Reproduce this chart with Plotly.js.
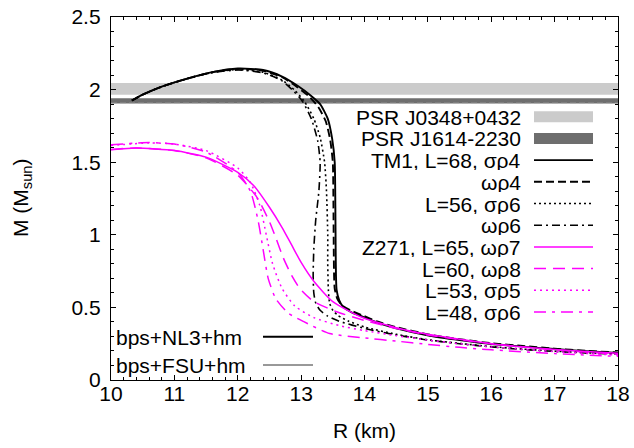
<!DOCTYPE html>
<html>
<head>
<meta charset="utf-8">
<script src="https://cdn.plot.ly/plotly-3.0.1.min.js"></script>
<style>html,body{margin:0;padding:0;background:#fff;}#chart{width:634px;height:448px;}</style>
</head>
<body>
<div id="chart"></div>
<script>
// ---- Data (R in km, M in solar masses) ----
// Observational bands
const psr0348Band = [1.965, 2.045];
const psr1614Band = [1.905, 1.94];

// TM1 family (black)
const tm1_L68_sr4_R = [10.33,10.5,10.8,11.2,11.6,12.0,12.4,12.7,12.95,13.15,13.3,13.42,13.49,13.53,13.54,13.545,13.55,13.56,13.6,13.66,13.8,13.97,14.2,14.5,15.03,15.5,16.0,16.5,17.0,17.5,18.0];
const tm1_L68_sr4_M = [1.925,1.965,2.02,2.075,2.12,2.145,2.135,2.09,2.025,1.96,1.9,1.8,1.66,1.5,1.2,0.9,0.72,0.62,0.55,0.505,0.465,0.436,0.395,0.356,0.305,0.275,0.248,0.23,0.213,0.199,0.187];

const tm1_wr4_R = [10.33,10.5,10.8,11.2,11.6,12.0,12.4,12.7,12.93,13.12,13.27,13.39,13.46,13.5,13.51,13.515,13.52,13.53,13.57,13.64,13.8,13.97,14.2,14.5,15.03,15.5,16.0,16.5,17.0,17.5,18.0];
const tm1_wr4_M = [1.925,1.965,2.02,2.075,2.12,2.143,2.13,2.085,2.02,1.955,1.88,1.78,1.65,1.5,1.2,0.9,0.72,0.63,0.56,0.515,0.475,0.445,0.403,0.364,0.312,0.281,0.253,0.234,0.216,0.201,0.189];

const tm1_L56_sr6_R = [10.33,10.5,10.8,11.2,11.6,12.0,12.4,12.7,12.9,13.05,13.2,13.3,13.37,13.4,13.42,13.42,13.43,13.45,13.5,13.58,13.75,14.0,14.5,15.0,15.5,16.0,16.5,17.0,17.5,18.0];
const tm1_L56_sr6_M = [1.925,1.965,2.02,2.075,2.118,2.138,2.12,2.065,1.995,1.92,1.8,1.67,1.5,1.3,1.0,0.8,0.62,0.53,0.48,0.445,0.405,0.365,0.315,0.277,0.252,0.23,0.213,0.199,0.188,0.179];

const tm1_wr6_R = [10.33,10.5,10.8,11.2,11.6,12.0,12.4,12.7,12.88,13.02,13.16,13.26,13.3,13.28,13.23,13.2,13.19,13.2,13.23,13.3,13.42,13.6,14.0,14.5,15.0,15.5,16.0,16.5,17.0,17.5,18.0];
const tm1_wr6_M = [1.925,1.965,2.02,2.075,2.117,2.135,2.115,2.06,1.99,1.92,1.8,1.65,1.5,1.3,1.1,0.9,0.72,0.6,0.53,0.48,0.44,0.405,0.355,0.31,0.275,0.25,0.228,0.21,0.197,0.187,0.178];

// Z271 family (magenta)
const z271_L65_wr7_R = [10.0,10.4,11.0,11.5,12.0,12.25,12.5,12.7,12.85,13.0,13.2,13.5,13.97,14.5,14.8,15.5,16.0,16.5,17.0,17.5,18.0];
const z271_L65_wr7_M = [1.585,1.597,1.58,1.535,1.43,1.34,1.19,1.05,0.93,0.81,0.68,0.54,0.43,0.36,0.33,0.28,0.25,0.228,0.21,0.196,0.184];

const z271_L60_wr8_R = [10.0,10.4,11.0,11.5,12.0,12.3,12.5,12.6,12.72,12.85,12.98,13.2,13.56,14.0,14.5,15.0,15.5,16.0,17.0,18.0];
const z271_L60_wr8_M = [1.588,1.598,1.58,1.53,1.41,1.26,1.09,0.98,0.84,0.72,0.63,0.54,0.47,0.41,0.355,0.31,0.278,0.25,0.208,0.177];

const z271_L53_sr5_R = [10.0,10.6,11.0,11.5,12.0,12.2,12.35,12.45,12.55,12.7,12.9,13.2,13.6,14.0,14.5,15.0,15.5,16.0,17.0,18.0];
const z271_L53_sr5_M = [1.615,1.633,1.625,1.58,1.46,1.36,1.2,1.0,0.8,0.63,0.51,0.43,0.375,0.34,0.305,0.275,0.25,0.228,0.196,0.171];

const z271_L48_sr6_R = [10.0,10.6,11.0,11.5,12.0,12.2,12.32,12.4,12.48,12.6,12.8,13.05,13.45,14.0,14.5,15.0,15.5,16.0,17.0,18.0];
const z271_L48_sr6_M = [1.62,1.635,1.625,1.57,1.43,1.3,1.1,0.9,0.7,0.56,0.46,0.4,0.32,0.29,0.268,0.245,0.225,0.208,0.182,0.163];

// Legend labels
const legendLabels = ["PSR J0348+0432","PSR J1614-2230","TM1, L=68, σρ4","ωρ4","L=56, σρ6","ωρ6","Z271, L=65, ωρ7","L=60, ωρ8","L=53, σρ5","L=48, σρ6"];
const crustLabels = ["bps+NL3+hm","bps+FSU+hm"];
const xTitle = "R (km)";
const yTitle = "M (M<sub>sun</sub>)";

// ---- Styles ----
const FONT = "Liberation Sans, Arial, sans-serif";
const MAG = "#ff00ff";
const dashS = "solid", dashD = "8px,4px", dashO = "2px,3px", dashDD = "8px,4px,2px,4px";
const mdashD = "12px,7px", mdashO = "2px,4px", mdashDD = "12px,6px,3px,6px";

const series = [
  {R: tm1_L68_sr4_R, M: tm1_L68_sr4_M, color: "#000", dash: dashS, w: 1.9},
  {R: tm1_wr4_R, M: tm1_wr4_M, color: "#000", dash: dashD, w: 1.9},
  {R: tm1_L56_sr6_R, M: tm1_L56_sr6_M, color: "#000", dash: dashO, w: 1.6},
  {R: tm1_wr6_R, M: tm1_wr6_M, color: "#000", dash: dashDD, w: 1.6},
  {R: z271_L65_wr7_R, M: z271_L65_wr7_M, color: MAG, dash: dashS, w: 1.5},
  {R: z271_L60_wr8_R, M: z271_L60_wr8_M, color: MAG, dash: mdashD, w: 1.5},
  {R: z271_L53_sr5_R, M: z271_L53_sr5_M, color: MAG, dash: mdashO, w: 1.5},
  {R: z271_L48_sr6_R, M: z271_L48_sr6_M, color: MAG, dash: mdashDD, w: 1.5}
];

const traces = [];
traces.push({x:[10,18,18,10,10], y:[psr0348Band[0],psr0348Band[0],psr0348Band[1],psr0348Band[1],psr0348Band[0]],
  mode:"lines", fill:"toself", fillcolor:"#cbcbcb", line:{width:0,color:"#cbcbcb"}, hoverinfo:"skip", showlegend:false});
traces.push({x:[10,18,18,10,10], y:[psr1614Band[0],psr1614Band[0],psr1614Band[1],psr1614Band[1],psr1614Band[0]],
  mode:"lines", fill:"toself", fillcolor:"#6e6e6e", line:{width:0,color:"#6e6e6e"}, hoverinfo:"skip", showlegend:false});
traces.push({x:[10,18], y:[psr1614Band[0],psr1614Band[0]], mode:"lines", line:{color:"#b0b0b0",width:1.2,dash:"6px,3px"}, hoverinfo:"skip", showlegend:false});

series.forEach(s => traces.push({x:s.R, y:s.M, mode:"lines", line:{color:s.color, width:s.w, dash:s.dash, shape:"spline", smoothing:0.6}, showlegend:false, hoverinfo:"skip"}));

// ---- custom gnuplot-like legend ----
const L = 111, T = 17, W = 507, H = 363;
const px = v => (v - L) / W;
const py = v => (T + H - v) / H;
const ann = [], shapes = [];
const rowY0 = 116.7, rowStep = 21.7;
const textRight = 522, s0 = 534, s1 = 593;
const LFS = 21;
legendLabels.forEach((lab, i) => {
  const yy = rowY0 + i * rowStep;
  ann.push({xref:"paper", yref:"paper", x:px(textRight), y:py(yy), text:lab, showarrow:false, xanchor:"right", yanchor:"middle",
    height:20, borderpad:0, valign:"middle", font:{family:FONT, size:LFS, color:"#000"}});
  if (i === 0) {
    shapes.push({type:"rect", xref:"paper", yref:"paper", x0:px(s0), x1:px(s1), y0:py(yy-5.5), y1:py(yy+5.5), fillcolor:"#cbcbcb", line:{width:0}});
  } else if (i === 1) {
    shapes.push({type:"rect", xref:"paper", yref:"paper", x0:px(s0), x1:px(s1), y0:py(yy-5.5), y1:py(yy+5.5), fillcolor:"#6e6e6e", line:{width:0}});
  } else {
    const s = series[i-2];
    shapes.push({type:"line", xref:"paper", yref:"paper", x0:px(s0), x1:px(s1), y0:py(yy), y1:py(yy), line:{color:s.color, width:s.w, dash:s.dash}});
  }
});
const crustY = [336.7, 365];
const crustW = [2, 1];
crustLabels.forEach((lab, i) => {
  ann.push({xref:"paper", yref:"paper", x:px(115), y:py(crustY[i]), text:lab, showarrow:false, xanchor:"left", yanchor:"middle",
    height:24, borderpad:0, font:{family:FONT, size:LFS, color:"#000"}});
  shapes.push({type:"line", xref:"paper", yref:"paper", x0:px(263), x1:px(313), y0:py(crustY[i]), y1:py(crustY[i]), line:{color: i===0 ? "#000" : "#333", width:crustW[i]}});
});
// axis titles
ann.push({xref:"paper", yref:"paper", x:px(22), y:py(198), text:yTitle, textangle:-90, showarrow:false, xanchor:"center", yanchor:"middle",
  font:{family:FONT, size:21, color:"#000"}});
ann.push({xref:"paper", yref:"paper", x:px(364), y:py(430), text:xTitle, showarrow:false, xanchor:"center", yanchor:"middle",
  font:{family:FONT, size:21, color:"#000"}});

const axisCommon = {
  showline:true, linecolor:"#000", linewidth:1.2, mirror:"ticks", ticks:"inside", ticklen:5, tickwidth:1, tickcolor:"#000",
  showgrid:false, zeroline:false, tickfont:{family:FONT, size:21, color:"#000"}
};
const layout = {
  width:634, height:448,
  margin:{l:111, r:16, t:17, b:68},
  paper_bgcolor:"#fff", plot_bgcolor:"#fff",
  showlegend:false,
  xaxis: Object.assign({}, axisCommon, {range:[10,18], dtick:1, tick0:10, ticklabelstandoff:-5,
    minor:{ticks:"inside", dtick:0.2, ticklen:3, tickcolor:"#000"}}),
  yaxis: Object.assign({}, axisCommon, {range:[0,2.5], dtick:0.5, tick0:0, ticklabelstandoff:5,
    tickformat:"~g",
    minor:{ticks:"inside", dtick:0.1, ticklen:3, tickcolor:"#000"}}),
  annotations: ann,
  shapes: shapes
};
Plotly.newPlot("chart", traces, layout, {staticPlot:true, displayModeBar:false});
</script>
</body>
</html>
